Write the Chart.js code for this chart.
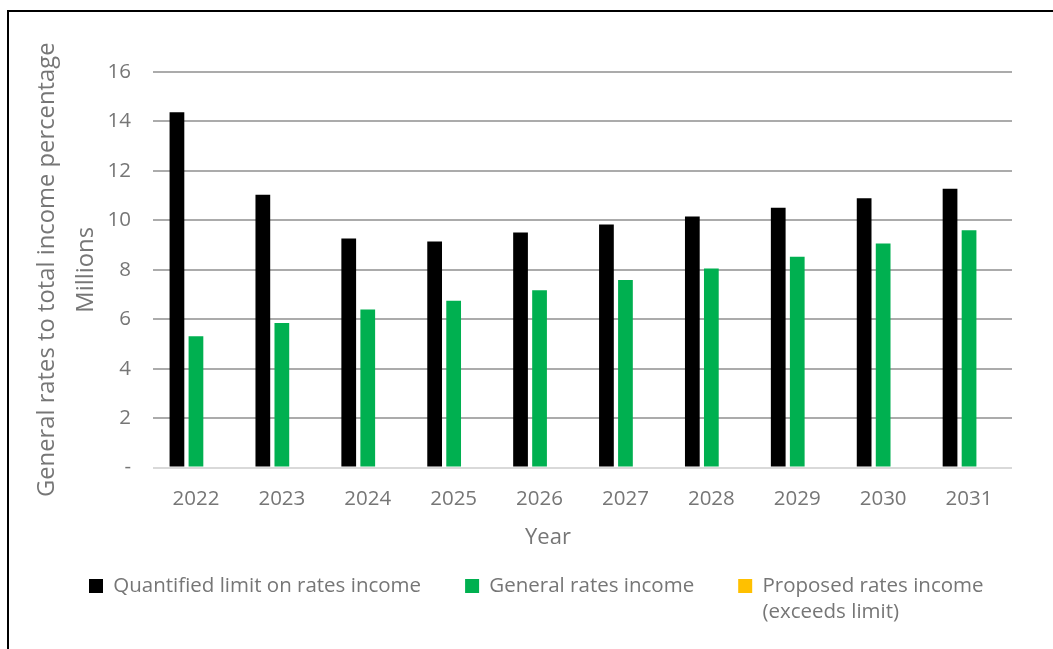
<!DOCTYPE html>
<html>
<head>
<meta charset="utf-8">
<script src="https://cdn.jsdelivr.net/npm/chart.js@4.4.1/dist/chart.umd.min.js"></script>
<style>
  html, body { margin: 0; padding: 0; background: #fff; overflow: hidden; }
  #wrap { position: relative; width: 1053px; height: 649px; }
  #frame {
    position: absolute; left: 7px; top: 10px; width: 1200px; height: 800px;
    border-left: 2px solid #000; border-top: 2px solid #000; pointer-events: none;
  }
  canvas { display: block; }
</style>
</head>
<body>
<div id="wrap">
  <canvas id="chart" width="1053" height="649"></canvas>
  <div id="frame"></div>
</div>
<script>
// Financial years shown on the category axis
const years = ['2022', '2023', '2024', '2025', '2026', '2027', '2028', '2029', '2030', '2031'];

// Values in millions
const quantifiedLimit = [14.37, 11.04, 9.27, 9.14, 9.51, 9.83, 10.16, 10.51, 10.89, 11.28];
const generalRates    = [5.31, 5.85, 6.39, 6.75, 7.17, 7.59, 8.05, 8.53, 9.06, 9.60];
const proposedRates   = [0, 0, 0, 0, 0, 0, 0, 0, 0, 0];

// Value axis labels (zero is shown as a dash)
const yTickLabels = ['-', '2', '4', '6', '8', '10', '12', '14', '16'];

const seriesNames = ['Quantified limit on rates income', 'General rates income', ['Proposed rates income', '(exceeds limit)']];

const TEXT = '#767676';
const FONT = '"Open Sans", "Noto Sans", sans-serif';

// Places the legend and the bottom title where they belong after layout
const boxPlacement = {
  id: 'boxPlacement',
  afterLayout(chart) {
    const lg = chart.legend;
    if (lg) {
      const pad = lg.options.labels.padding;
      const fs = lg.options.labels.font.size;
      const firstX = 89, rowCenterY = 586;
      lg.left = firstX - pad;
      lg.right = 3000;
      lg.width = lg.right - lg.left;
      lg.top = rowCenterY - fs / 2 - pad;
      lg.bottom = 649;
      lg.height = lg.bottom - lg.top;
    }
    const tb = chart.titleBlock;
    if (tb) {
      const f = tb.options.font;
      const lh = f.size * 1.2;
      const cx = 548, cy = 538;
      tb.left = cx - 150; tb.right = cx + 150; tb.width = 300;
      tb.top = cy - lh / 2; tb.bottom = tb.top + lh; tb.height = lh;
    }
  }
};

new Chart(document.getElementById('chart'), {
  type: 'bar',
  data: {
    labels: years,
    datasets: [
      { label: seriesNames[0], data: quantifiedLimit, backgroundColor: '#000000' },
      { label: seriesNames[1], data: generalRates, backgroundColor: '#00b050' },
      { label: seriesNames[2], data: proposedRates, backgroundColor: '#ffc000' }
    ]
  },
  options: {
    responsive: false,
    animation: false,
    devicePixelRatio: 1,
    categoryPercentage: 0.664,
    barPercentage: 0.775,
    layout: { padding: { left: 28, right: 41, top: 72, bottom: 75 } },
    scales: {
      x: {
        grid: { display: false },
        border: { display: false },
        ticks: { color: TEXT, font: { family: FONT, size: 20.5 }, padding: 11 },
        afterFit(scale) { scale.height = 60; }
      },
      y: {
        min: 0, max: 16,
        ticks: {
          stepSize: 2,
          color: TEXT,
          font: { family: FONT, size: 20.5 },
          padding: 22,
          callback: (value, index) => yTickLabels[index]
        },
        grid: {
          drawTicks: false,
          lineWidth: 2,
          color: (c) => (c.tick && c.tick.value === 0) ? '#d9d9d9' : '#ababab'
        },
        border: { display: false },
        title: {
          display: true,
          text: ['General rates to total income percentage', 'Millions'],
          color: TEXT,
          font: { family: FONT, size: 23.8, lineHeight: 1.64 },
          padding: { top: 0, bottom: 0 }
        },
        afterFit(scale) { scale.width = 125; }
      }
    },
    plugins: {
      tooltip: { enabled: false },
      title: {
        display: true,
        position: 'bottom',
        text: 'Year',
        color: TEXT,
        font: { family: FONT, size: 22, weight: 'normal', lineHeight: 1.2 },
        padding: 0
      },
      legend: {
        position: 'bottom',
        align: 'start',
        maxHeight: 20,
        labels: {
          color: TEXT,
          font: { family: FONT, size: 20.5, lineHeight: 1.3 },
          boxWidth: 14,
          boxHeight: 14,
          padding: 44
        }
      }
    }
  },
  plugins: [boxPlacement]
});
</script>
</body>
</html>
